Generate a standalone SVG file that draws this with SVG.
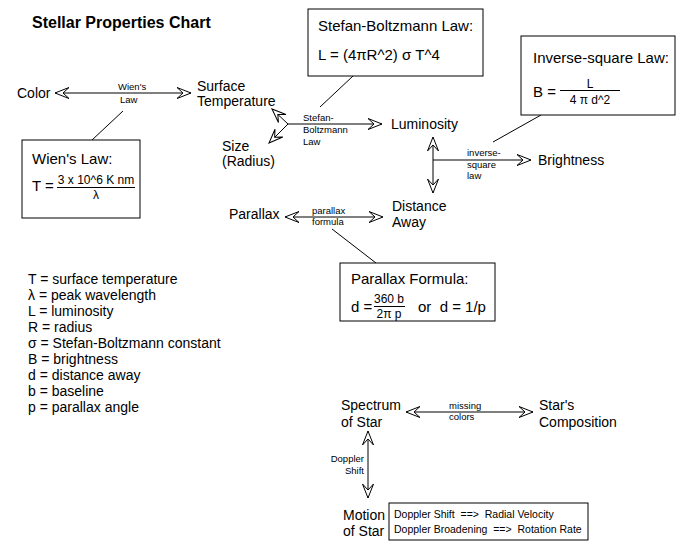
<svg xmlns="http://www.w3.org/2000/svg" width="697" height="560" viewBox="0 0 697 560">
<style>
text{font-family:"Liberation Sans",Arial,sans-serif;fill:#000}
.t{font-size:16px;font-weight:bold}
.n{font-size:14px}
.s{font-size:9.5px}
.b{font-size:15px}
.f{font-size:12px}
.l{font-size:14px}
.d{font-size:10.5px}
.box{fill:#fff;stroke:#000;stroke-width:1}
.c{stroke:#000;stroke-width:1;fill:none}
.a{stroke:#000;stroke-width:1;fill:none;marker-end:url(#ah)}
.aa{stroke:#000;stroke-width:1;fill:none;marker-start:url(#ah);marker-end:url(#ah)}
</style>
<defs>
<marker id="ah" markerUnits="userSpaceOnUse" viewBox="0 0 15 12" markerWidth="15" markerHeight="12" refX="14" refY="6" orient="auto-start-reverse" overflow="visible">
<path d="M14,6 L0,0.5 L6,6 L0,11.5 Z" fill="#fff" stroke="#000" stroke-width="1"/>
</marker>
</defs>
<rect width="697" height="560" fill="#fff"/>
<text class="t" x="32" y="28">Stellar Properties Chart</text>

<g id="connectors">
<line class="aa" x1="55" y1="93" x2="191" y2="93"/>
<line class="a" x1="288" y1="124" x2="382" y2="124"/>
<line class="a" x1="288" y1="124" x2="272" y2="109"/>
<line class="a" x1="288" y1="124" x2="269" y2="143"/>
<line class="aa" x1="433" y1="137" x2="433" y2="193"/>
<line class="a" x1="433" y1="160" x2="531" y2="160"/>
<line class="aa" x1="285" y1="217" x2="383" y2="217"/>
<line class="aa" x1="406" y1="412" x2="533" y2="412"/>
<line class="aa" x1="368" y1="431" x2="368" y2="498"/>
<line class="c" x1="92" y1="140" x2="123" y2="111"/>
<line class="c" x1="320" y1="107" x2="353" y2="76"/>
<line class="c" x1="493" y1="142" x2="541" y2="115"/>
<line class="c" x1="332" y1="229" x2="376" y2="263"/>
<text class="s" x="118" y="90">Wien's</text>
<text class="s" x="120" y="103">Law</text>
<text class="s" x="303" y="121">Stefan-</text>
<text class="s" x="303" y="133">Boltzmann</text>
<text class="s" x="303" y="145">Law</text>
<text class="s" x="467" y="156">inverse-</text>
<text class="s" x="467" y="168">square</text>
<text class="s" x="467" y="179">law</text>
<text class="s" x="312" y="214">parallax</text>
<text class="s" x="312" y="225">formula</text>
<text class="s" x="449" y="409">missing</text>
<text class="s" x="449" y="420">colors</text>
<text class="s" x="364" y="462" text-anchor="end">Doppler</text>
<text class="s" x="364" y="474" text-anchor="end">Shift</text>
</g>

<g id="color"><text class="n" x="17" y="98">Color</text></g>
<g id="surface-temperature"><text class="n" x="197" y="91">Surface</text><text class="n" x="197" y="106">Temperature</text></g>
<g id="size"><text class="n" x="222" y="151">Size</text><text class="n" x="222" y="166">(Radius)</text></g>
<g id="luminosity"><text class="n" x="391" y="129">Luminosity</text></g>
<g id="brightness"><text class="n" x="538" y="165">Brightness</text></g>
<g id="distance"><text class="n" x="392" y="211">Distance</text><text class="n" x="392" y="227">Away</text></g>
<g id="parallax"><text class="n" x="229" y="219">Parallax</text></g>
<g id="spectrum"><text class="n" x="341" y="410">Spectrum</text><text class="n" x="341" y="427">of Star</text></g>
<g id="composition"><text class="n" x="539" y="410">Star's</text><text class="n" x="539" y="427">Composition</text></g>
<g id="motion"><text class="n" x="343" y="520">Motion</text><text class="n" x="343" y="536">of Star</text></g>

<g id="wien-box">
<rect class="box" x="22" y="140" width="118" height="78"/>
<text class="b" x="32" y="164">Wien's Law:</text>
<text class="b" x="32" y="191">T =</text>
<text class="f" x="96" y="184" text-anchor="middle">3 x 10^6 K nm</text>
<line class="c" x1="57" y1="187.5" x2="135" y2="187.5"/>
<text class="f" x="96" y="199" text-anchor="middle">λ</text>
</g>

<g id="stefan-box">
<rect class="box" x="308" y="9" width="175" height="67"/>
<text class="b" x="318" y="31">Stefan-Boltzmann Law:</text>
<text class="b" x="318" y="60">L = (4πR^2) σ T^4</text>
</g>

<g id="inverse-box">
<rect class="box" x="521" y="36" width="154" height="79"/>
<text class="b" x="533" y="63">Inverse-square Law:</text>
<text class="b" x="533" y="97">B =</text>
<text class="f" x="590" y="88" text-anchor="middle">L</text>
<line class="c" x1="560" y1="90.5" x2="620" y2="90.5"/>
<text class="f" x="590" y="104" text-anchor="middle">4 π  d^2</text>
</g>

<g id="parallax-box">
<rect class="box" x="340" y="263" width="155" height="58"/>
<text class="b" x="351" y="284">Parallax Formula:</text>
<text class="b" x="351" y="312">d =</text>
<text class="f" x="389" y="303" text-anchor="middle">360 b</text>
<line class="c" x1="374" y1="306.5" x2="405" y2="306.5"/>
<text class="f" x="389" y="318" text-anchor="middle">2π p</text>
<text class="b" x="418" y="312" xml:space="preserve">or  d = 1/p</text>
</g>

<g id="doppler-box">
<rect class="box" x="389" y="503" width="199" height="37"/>
<text class="d" x="394" y="518" xml:space="preserve">Doppler Shift  ==>  Radial Velocity</text>
<text class="d" x="394" y="533" xml:space="preserve">Doppler Broadening  ==>  Rotation Rate</text>
</g>

<g id="legend">
<text class="l" x="28" y="284">T = surface temperature</text>
<text class="l" x="28" y="300">λ = peak wavelength</text>
<text class="l" x="28" y="316">L = luminosity</text>
<text class="l" x="28" y="332">R = radius</text>
<text class="l" x="28" y="348">σ = Stefan-Boltzmann constant</text>
<text class="l" x="28" y="364">B = brightness</text>
<text class="l" x="28" y="380">d = distance away</text>
<text class="l" x="28" y="396">b = baseline</text>
<text class="l" x="28" y="412">p = parallax angle</text>
</g>
</svg>
